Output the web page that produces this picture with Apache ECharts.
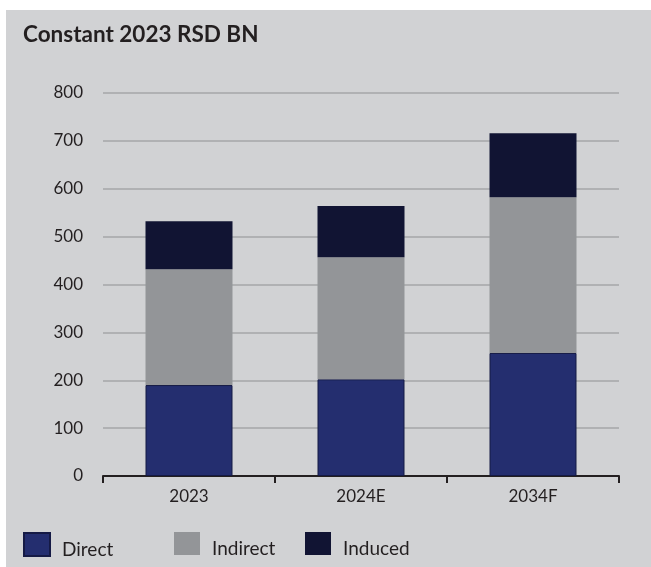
<!DOCTYPE html>
<html>
<head>
    <meta charset="utf-8">
    <script src="https://cdn.jsdelivr.net/npm/echarts@6/dist/echarts.min.js"></script>
    <style>
        body { margin: 0; background: #ffffff; }
        #main { position: absolute; left: 6px; top: 10px; width: 645px; height: 557px; background: #d1d2d4; }
    </style>
</head>
<body>
    <div id="main"></div>

<script type="text/javascript">
    // data
    var categories = ['2023', '2024E', '2034F'];
    var direct = [190, 202, 257];
    var indirect = [242, 255, 325];
    var induced = [100, 107, 134];
    var yTicks = [0, 100, 200, 300, 400, 500, 600, 700, 800];

    var myChart = echarts.init(document.getElementById('main'));

    var font = 'Lato, "Open Sans", sans-serif';
    var ink = '#231f20';

    // one legend per item, the gaps in the original are uneven
    // the text sits a little low next to the square, hence the spacer token
    var legendItem = function (name, left) {
        return {
            left: left,
            top: 517,
            itemWidth: 26,
            itemHeight: 23,
            itemGap: 0,
            icon: 'rect',
            data: [name],
            formatter: '{s| }{t|{name}}',
            textStyle: {
                color: ink,
                fontFamily: font,
                padding: [0, 0, 0, 5],
                rich: {
                    s: { fontSize: 2, lineHeight: 29, width: 2 },
                    t: { fontSize: 19, lineHeight: 19, color: ink, fontFamily: font, verticalAlign: 'bottom' }
                }
            }
        };
    };

    var option = {
        animation: false,
        title: {
            text: 'Constant 2023 RSD BN',
            left: 12,
            top: 8,
            textStyle: { color: ink, fontSize: 22.5, fontWeight: 'bold', fontFamily: font }
        },
        legend: [
            legendItem('Direct', 12),
            legendItem('Indirect', 163),
            legendItem('Induced', 294)
        ],
        grid: { left: 97, right: 32, top: 83, bottom: 91 },
        xAxis: {
            type: 'category',
            data: categories,
            axisLine: { lineStyle: { color: ink, width: 2 } },
            axisTick: { show: true, length: 7, lineStyle: { color: ink, width: 2 } },
            axisLabel: { color: ink, fontSize: 17, fontFamily: font, margin: 12 }
        },
        yAxis: {
            type: 'value',
            min: yTicks[0],
            max: yTicks[yTicks.length - 1],
            interval: 100,
            axisLine: { show: false },
            axisTick: { show: false },
            axisLabel: { color: ink, fontSize: 17, fontFamily: font, margin: 20 },
            splitLine: { lineStyle: { color: '#a5a6a8', width: 1.5 } }
        },
        series: [
            {
                name: 'Direct',
                type: 'bar',
                stack: 'total',
                barWidth: 87,
                data: direct,
                itemStyle: { color: '#242e6f', borderColor: '#151a45', borderWidth: 1 }
            },
            {
                name: 'Indirect',
                type: 'bar',
                stack: 'total',
                data: indirect,
                itemStyle: { color: '#939598' }
            },
            {
                name: 'Induced',
                type: 'bar',
                stack: 'total',
                data: induced,
                itemStyle: { color: '#111433' }
            }
        ]
    };

    myChart.setOption(option);
</script>
</body>
</html>
